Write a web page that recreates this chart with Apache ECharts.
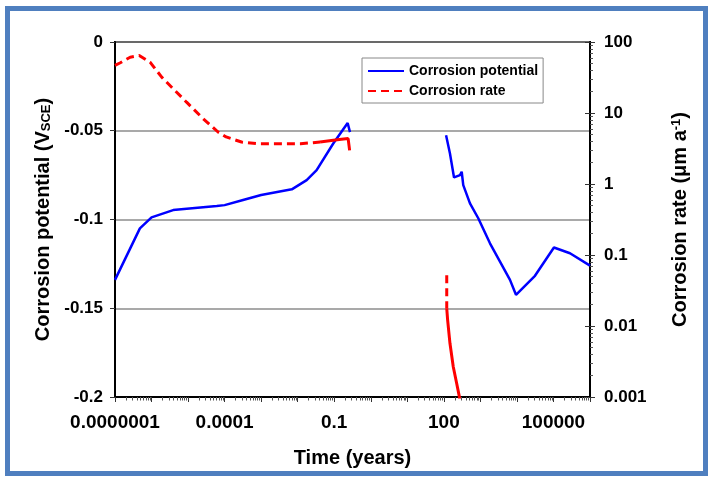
<!DOCTYPE html>
<html>
<head>
<meta charset="utf-8">
<script src="https://cdn.jsdelivr.net/npm/echarts@6/dist/echarts.min.js"></script>
<style>
  html, body { margin: 0; padding: 0; background: #fff; }
  #chart { width: 712px; height: 485px; }
</style>
</head>
<body>
<div id="chart"></div>
<script>
// Corrosion potential (V vs SCE), short-term exposure
const potentialEarlyYears = [1e-7, 4.8e-7, 1.0e-6, 3.9e-6, 6.1e-5, 1.0e-4, 3.2e-4, 1.0e-3, 6.9e-3, 0.0176, 0.033, 0.094, 0.233, 0.27];
const potentialEarlyV     = [-0.134, -0.105, -0.0988, -0.0947, -0.0924, -0.0919, -0.089, -0.0862, -0.083, -0.0778, -0.0722, -0.0572, -0.0456, -0.0508];

// Corrosion potential, long-term prediction
const potentialLateYears = [115, 147, 190, 277, 308, 340, 519, 875, 1830, 3440, 6460, 9420, 31200, 103000, 283000, 1000000];
const potentialLateV     = [-0.0525, -0.0628, -0.0763, -0.075, -0.0731, -0.0806, -0.0909, -0.0993, -0.1134, -0.1237, -0.134, -0.1424, -0.1317, -0.1158, -0.119, -0.126];

// Corrosion rate (µm/a), short-term exposure: sparse part then dense part
const rateEarlyYears = [1e-7, 1.4e-7, 2.6e-7, 4.6e-7, 9.1e-7, 1.9e-6, 3.9e-6, 9.1e-6, 2.6e-5, 6.6e-5, 1.1e-4, 2.9e-4, 7.4e-4, 0.012, 0.041];
const rateEarly      = [46.8, 51, 61, 64.6, 52, 32, 22, 14.2, 8.3, 5.4, 4.6, 3.9, 3.7, 3.7, 3.9];
const rateEarlyEndYears = [0.041, 0.12, 0.24, 0.264, 0.264];
const rateEarlyEnd      = [3.9, 4.2, 4.36, 4.36, 2.98];

// Corrosion rate, long-term prediction
const rateLateYears = [120, 120];
const rateLate      = [0.052, 0.0177];
const rateLateEndYears = [120, 127, 147, 181, 224, 264, 300];
const rateLateEnd      = [0.0177, 0.0121, 0.0057, 0.00267, 0.00156, 0.00103, 0.0006];

// Axis ticks
const timeTickValues = [1e-7, 1e-4, 0.1, 100, 1e5];
const timeTickLabels = ['0.0000001', '0.0001', '0.1', '100', '100000'];
const rateTickValues = [0.001, 0.01, 0.1, 1, 10, 100];
const rateTickLabels = ['0.001', '0.01', '0.1', '1', '10', '100'];

const pairs = (xs, ys) => xs.map((x, i) => [x, ys[i]]);
const decades = (lo, hi) => { const out = []; for (let e = lo; e <= hi; e++) out.push(Math.pow(10, e)); return out; };
const minors = (lo, hi) => { const out = []; for (let e = lo; e < hi; e++) for (let k = 2; k <= 9; k++) out.push(k * Math.pow(10, e)); return out; };
const labelFor = (vals, labels) => v => {
  const i = vals.findIndex(t => Math.abs(Math.log10(t) - Math.log10(v)) < 1e-6);
  return i >= 0 ? labels[i] : '';
};

const FONT = '"Liberation Sans", Arial, sans-serif';
const BLUE = '#0000ff';
const RED = '#ff0000';
const tickStyle = { color: '#333', width: 1 };

const blueLine = { color: BLUE, width: 2.5 };
const redDash = { color: RED, width: 3, type: [8, 5], cap: 'butt' };
const redSolid = { color: RED, width: 3 };

const chart = echarts.init(document.getElementById('chart'), null, { renderer: 'canvas' });

chart.setOption({
  animation: false,
  backgroundColor: '#fff',
  textStyle: { fontFamily: FONT },
  graphic: [{
    type: 'rect',
    shape: { x: 7.5, y: 8.5, width: 698, height: 465 },
    style: { fill: 'none', stroke: '#4f7fbf', lineWidth: 5 },
    silent: true, z: -10
  }],
  grid: {
    left: 115, right: 122, top: 42, bottom: 88,
    show: true, borderColor: '#000', borderWidth: 2, backgroundColor: '#fff'
  },
  legend: {
    left: 362, top: 58,
    orient: 'vertical',
    backgroundColor: '#fff',
    borderColor: '#888', borderWidth: 1,
    padding: [6, 5, 5, 5],
    itemGap: 6,
    itemWidth: 36, itemHeight: 14,
    itemStyle: { opacity: 0 },
    data: ['Corrosion potential', 'Corrosion rate'],
    textStyle: { fontFamily: FONT, fontSize: 14, fontWeight: 'bold', color: '#000' }
  },
  xAxis: [{
    type: 'log', logBase: 10, min: 1e-7, max: 1e6, position: 'bottom',
    name: 'Time (years)', nameLocation: 'middle', nameGap: 51,
    nameTextStyle: { fontFamily: FONT, fontSize: 20, fontWeight: 'bold', color: '#000' },
    axisLine: { show: true, onZero: false, lineStyle: { color: '#000', width: 2 } },
    axisTick: { show: true, length: 5, customValues: decades(-7, 6), lineStyle: tickStyle },
    axisLabel: {
      customValues: timeTickValues, formatter: labelFor(timeTickValues, timeTickLabels),
      margin: 16, fontFamily: FONT, fontSize: 19, fontWeight: 'bold', color: '#000'
    },
    splitLine: { show: false }
  }, {
    type: 'log', logBase: 10, min: 1e-7, max: 1e6, position: 'bottom',
    axisLine: { show: false, onZero: false },
    axisTick: { show: true, length: 3.5, customValues: minors(-7, 6), lineStyle: { color: '#555', width: 1 } },
    axisLabel: { show: false },
    splitLine: { show: false }
  }],
  yAxis: [{
    type: 'value', min: -0.2, max: 0, interval: 0.05, position: 'left',
    name: '{a|Corrosion potential (V}{s|SCE}{a|)}',
    nameLocation: 'middle', nameRotate: 90, nameGap: 62,
    nameTextStyle: {
      rich: {
        a: { fontFamily: FONT, fontSize: 20, fontWeight: 'bold', color: '#000' },
        s: { fontFamily: FONT, fontSize: 13, fontWeight: 'bold', color: '#000', verticalAlign: 'bottom', padding: [6, 0, 0, 0] }
      }
    },
    axisLine: { show: true, onZero: false, lineStyle: { color: '#000', width: 2 } },
    axisTick: { show: true, length: 5, lineStyle: tickStyle },
    axisLabel: { margin: 12, fontFamily: FONT, fontSize: 17, fontWeight: 'bold', color: '#000' },
    splitLine: { show: true, lineStyle: { color: '#8c8c8c', width: 1.5 } }
  }, {
    type: 'log', logBase: 10, min: 0.001, max: 100, position: 'right',
    name: '{a|Corrosion rate (\u03bcm a}{p|-1}{a|)}',
    nameLocation: 'middle', nameRotate: 90, nameGap: 80,
    nameTextStyle: {
      rich: {
        a: { fontFamily: FONT, fontSize: 20, fontWeight: 'bold', color: '#000' },
        p: { fontFamily: FONT, fontSize: 13, fontWeight: 'bold', color: '#000', verticalAlign: 'top', padding: [0, 0, 8, 0] }
      }
    },
    axisLine: { show: true, onZero: false, lineStyle: { color: '#000', width: 2 } },
    axisTick: { show: true, length: 5, customValues: rateTickValues, lineStyle: tickStyle },
    axisLabel: {
      customValues: rateTickValues, formatter: labelFor(rateTickValues, rateTickLabels),
      margin: 14, fontFamily: FONT, fontSize: 17, fontWeight: 'bold', color: '#000'
    },
    splitLine: { show: false }
  }, {
    type: 'log', logBase: 10, min: 0.001, max: 100, position: 'right',
    axisLine: { show: false, onZero: false },
    axisTick: { show: true, inside: true, length: 5, customValues: rateTickValues, lineStyle: tickStyle },
    axisLabel: { show: false },
    splitLine: { show: false }
  }, {
    type: 'log', logBase: 10, min: 0.001, max: 100, position: 'right',
    axisLine: { show: false, onZero: false },
    axisTick: { show: true, length: 3, customValues: minors(-3, 2), lineStyle: { color: '#555', width: 1 } },
    axisLabel: { show: false },
    splitLine: { show: false }
  }],
  series: [
    { name: 'Corrosion potential', type: 'line', xAxisIndex: 0, yAxisIndex: 0, symbol: 'none',
      lineStyle: blueLine, itemStyle: { color: BLUE }, data: pairs(potentialEarlyYears, potentialEarlyV), z: 3 },
    { name: 'Corrosion potential', type: 'line', xAxisIndex: 0, yAxisIndex: 0, symbol: 'none',
      lineStyle: blueLine, itemStyle: { color: BLUE }, data: pairs(potentialLateYears, potentialLateV), z: 3 },
    { name: 'Corrosion rate', type: 'line', xAxisIndex: 0, yAxisIndex: 1, symbol: 'none',
      lineStyle: redDash, itemStyle: { color: RED }, data: pairs(rateEarlyYears, rateEarly), z: 4 },
    { name: 'Corrosion rate', type: 'line', xAxisIndex: 0, yAxisIndex: 1, symbol: 'none',
      lineStyle: redSolid, itemStyle: { color: RED }, data: pairs(rateEarlyEndYears, rateEarlyEnd), z: 4 },
    { name: 'Corrosion rate', type: 'line', xAxisIndex: 0, yAxisIndex: 1, symbol: 'none',
      lineStyle: redDash, itemStyle: { color: RED }, data: pairs(rateLateYears, rateLate), z: 4 },
    { name: 'Corrosion rate', type: 'line', xAxisIndex: 0, yAxisIndex: 1, symbol: 'none',
      lineStyle: redSolid, itemStyle: { color: RED }, data: pairs(rateLateEndYears, rateLateEnd), z: 4 }
  ]
});
</script>
</body>
</html>
